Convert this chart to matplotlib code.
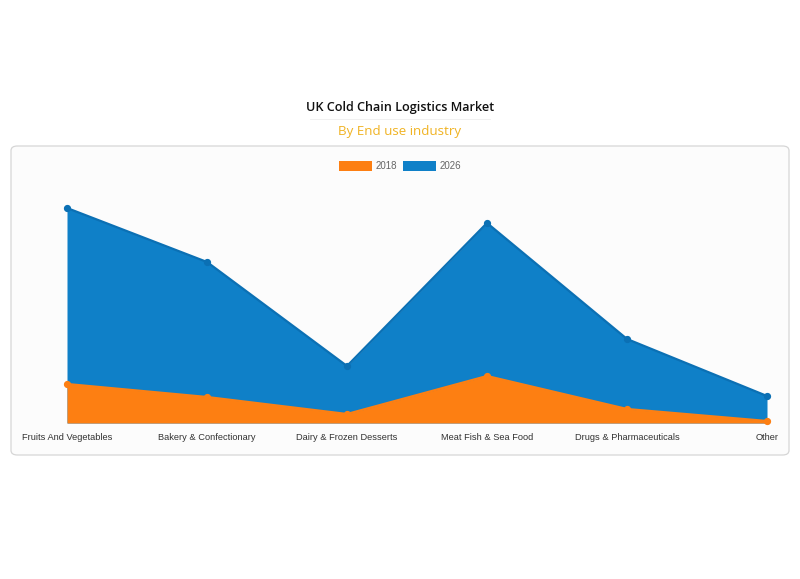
import matplotlib
matplotlib.use("Agg")
import matplotlib.pyplot as plt
from matplotlib.patches import FancyBboxPatch, Rectangle
from matplotlib.lines import Line2D

categories = ["Fruits And Vegetables", "Bakery & Confectionary", "Dairy & Frozen Desserts",
              "Meat Fish & Sea Food", "Drugs & Pharmaceuticals", "Other"]
series_names = ["2018", "2026"]
values_2018 = [39, 26, 9, 47, 14, 2]
values_2026 = [215, 161, 57, 200, 84, 27]

ORANGE = "#fd7f12"
BLUE = "#0f80c8"
BLUE_EDGE = "#0b70b4"

W, H = 800, 579
fig = plt.figure(figsize=(W / 100, H / 100), dpi=100)
fig.patch.set_facecolor("white")

def fx(x):
    return x / W

def fy(y):
    return 1 - y / H

# panel
panel = FancyBboxPatch((fx(11), fy(455)), fx(789) - fx(11), fy(146) - fy(455),
                       boxstyle="round,pad=0,rounding_size=0.008",
                       transform=fig.transFigure, facecolor="#fcfcfc",
                       edgecolor="#d6d6d6", linewidth=0.9, zorder=-5)
fig.patches.append(panel)

# title
fig.text(0.5, fy(107), "UK Cold Chain Logistics Market", ha="center", va="center",
         fontsize=9.1, family="Open Sans", fontweight="semibold", color="#111111")
fig.add_artist(Line2D([fx(310), fx(490)], [fy(119), fy(119)], transform=fig.transFigure,
                      color="#eeeeee", linewidth=0.6))
fig.text(0.5, fy(131), "By End use industry", ha="center", va="center",
         fontsize=9.6, family="Open Sans", color="#f0b323")

# axes
ax = fig.add_axes([fx(67), fy(423), fx(767) - fx(67), fy(173) - fy(423)])
ax.set_zorder(1)
ax.set_facecolor("none")
x = list(range(len(categories)))
ax.fill_between(x, 0, values_2026, color=BLUE, linewidth=0, zorder=1)
ax.plot(x, values_2026, color=BLUE_EDGE, linewidth=1.6, zorder=2, clip_on=False)
ax.plot(x, values_2026, "o", color=BLUE_EDGE, markersize=4.2, zorder=3, clip_on=False)
ax.fill_between(x, 0, values_2018, color=ORANGE, linewidth=0, zorder=4)
ax.plot(x, values_2018, color=ORANGE, linewidth=1.6, zorder=5, clip_on=False)
ax.plot(x, values_2018, "o", color=ORANGE, markersize=4.2, zorder=6, clip_on=False)
ax.set_xlim(0, len(categories) - 1)
ax.set_ylim(0, 250)
for s in ax.spines.values():
    s.set_visible(False)
ax.set_yticks([])
ax.set_xticks(x)
ax.set_xticklabels(categories, family="Liberation Sans", fontsize=6.7, color="#333333")
ax.tick_params(axis="x", length=0, pad=7)

# legend
for (x0, col, name) in [(339, ORANGE, series_names[0]), (403, BLUE, series_names[1])]:
    fig.patches.append(Rectangle((fx(x0), fy(171)), fx(33), fy(161) - fy(171),
                                 transform=fig.transFigure, facecolor=col, edgecolor="none"))
    fig.text(fx(x0 + 37), fy(166), name, ha="left", va="center", fontsize=7,
             family="Liberation Sans", color="#666666")

fig.savefig("out.png", dpi=100)
